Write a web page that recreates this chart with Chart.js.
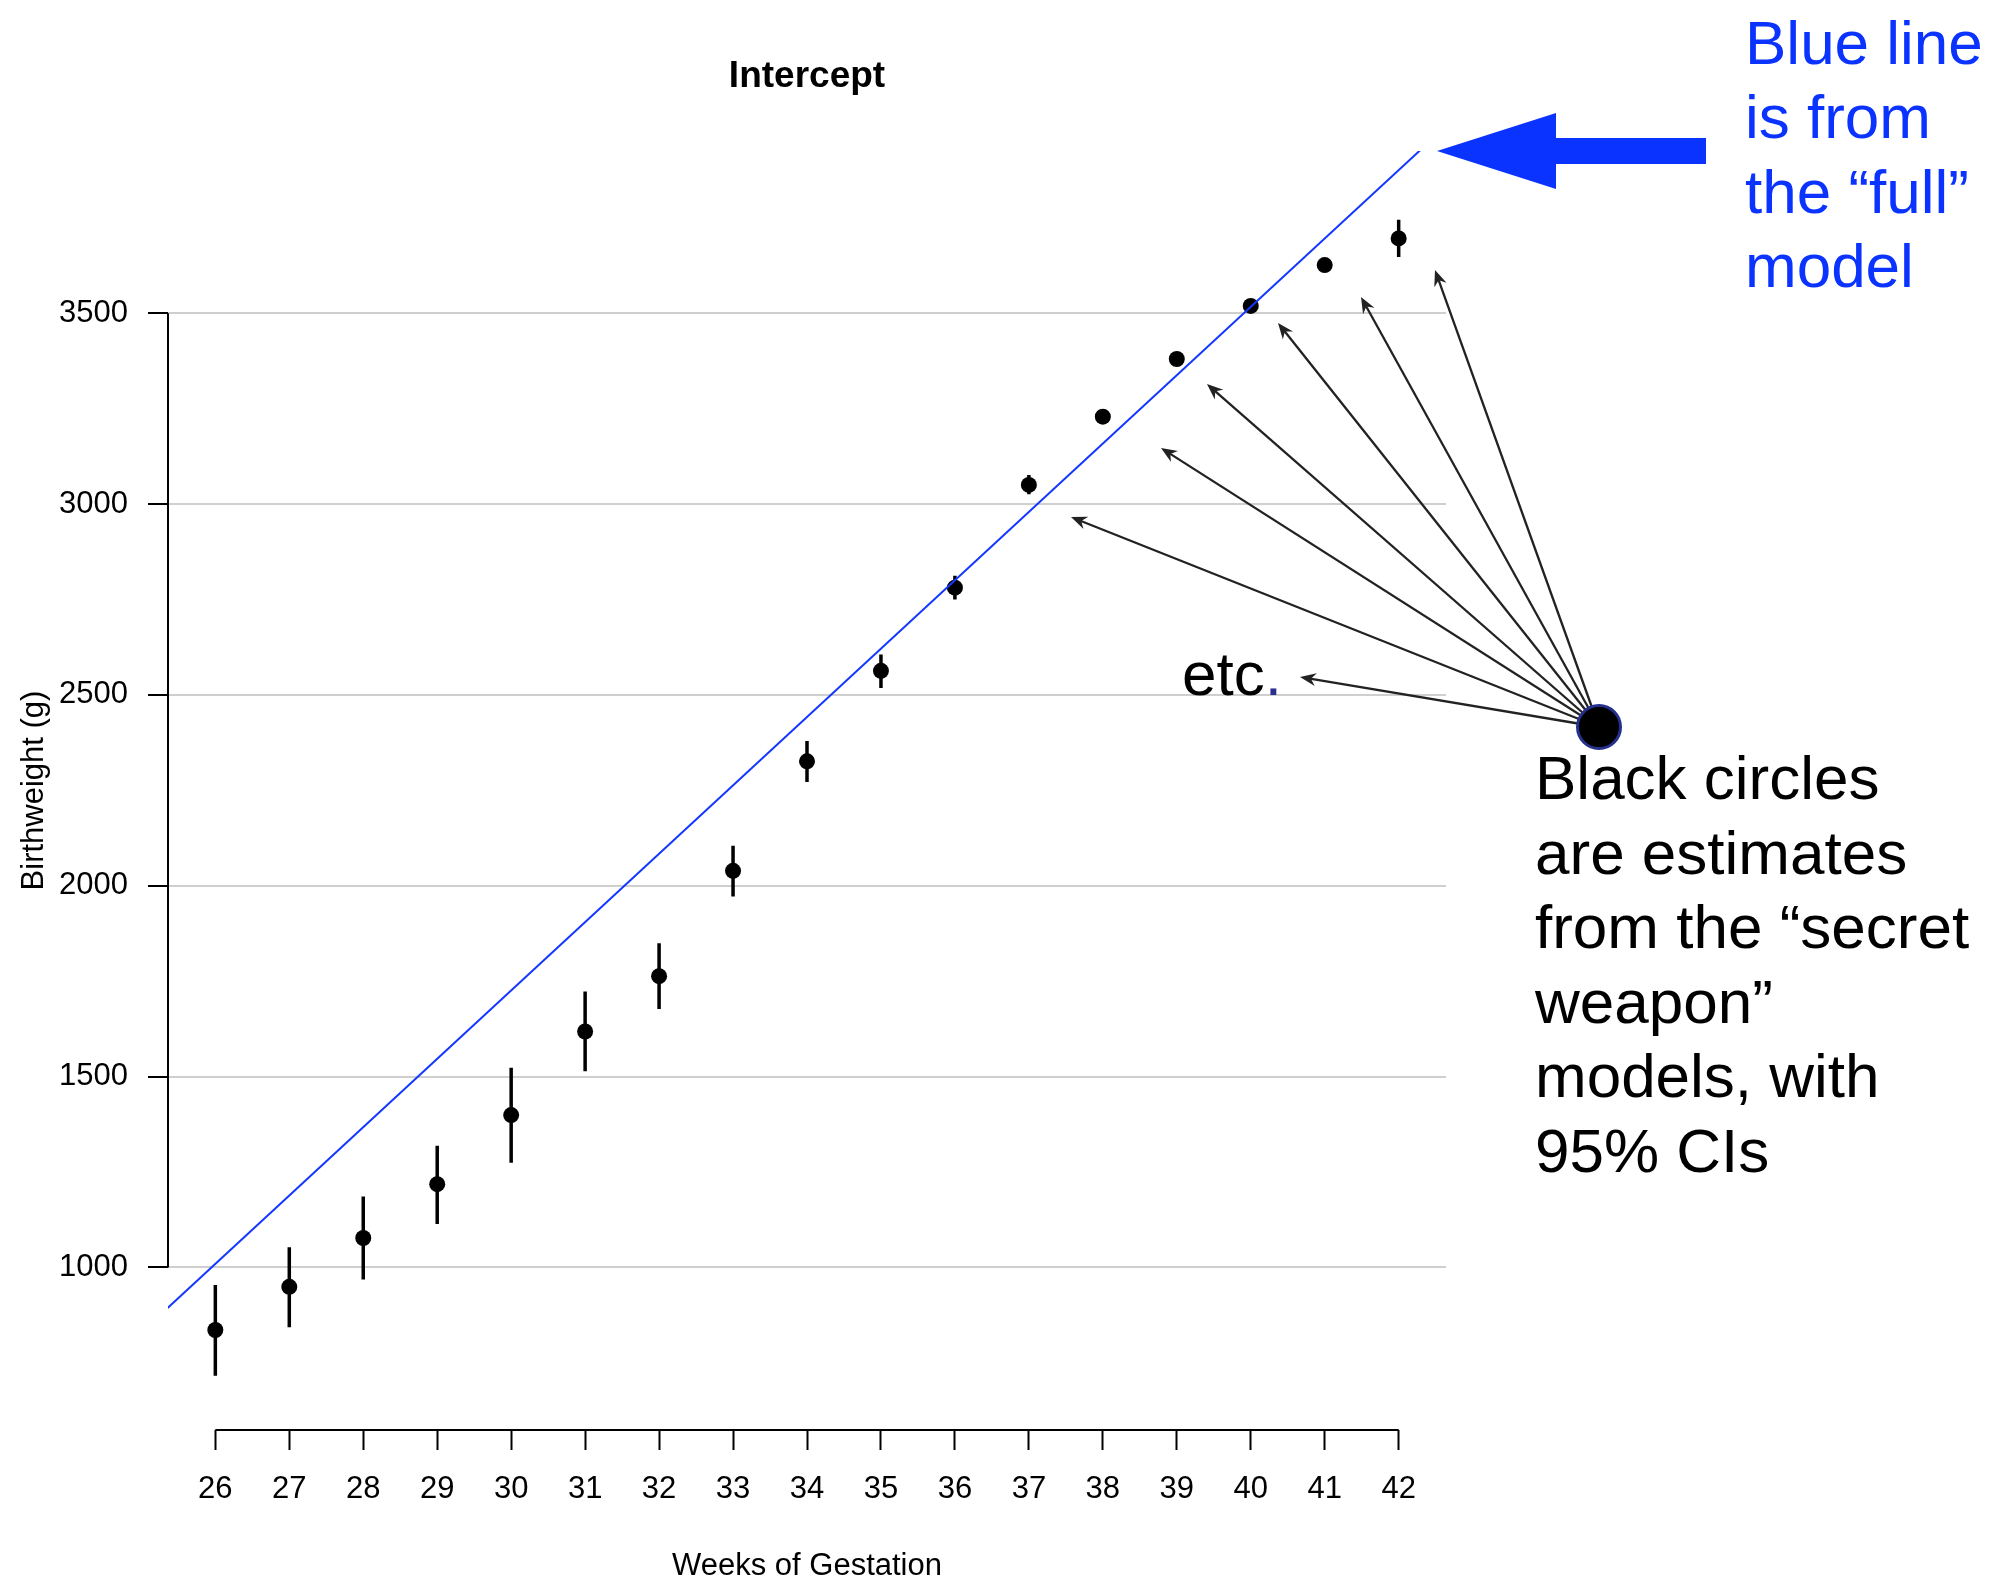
<!DOCTYPE html>
<html>
<head>
<meta charset="utf-8">
<title>Intercept</title>
<script src="https://cdn.jsdelivr.net/npm/chart.js@4.4.1/dist/chart.umd.min.js"></script>
<style>
  html, body { margin: 0; padding: 0; background: #fff; }
  canvas { display: block; }
</style>
</head>
<body>
<canvas id="interceptChart" width="1992" height="1579"></canvas>
<script>
// weeks of gestation and the per-week ("secret weapon") intercept estimates, in grams
const weeks = [26, 27, 28, 29, 30, 31, 32, 33, 34, 35, 36, 37, 38, 39, 40, 41, 42];
const secretEstimate = [836, 949, 1077, 1218, 1399, 1618, 1763, 2039, 2326, 2563, 2781, 3050, 3229, 3380, 3519, 3626, 3696];
const ciLower = [716, 843, 968, 1114, 1274, 1514, 1677, 1972, 2272, 2518, 2750, 3026, 3215, 3366, 3505, 3610, 3647];
const ciUpper = [954, 1053, 1186, 1319, 1523, 1723, 1849, 2105, 2379, 2606, 2812, 3076, 3243, 3394, 3533, 3642, 3745];

// straight fit from the full model (ends sit past the plot edges and get clipped)
const fullModelWeeks = [25, 43];
const fullModelGrams = [830, 4054];

const yTicks = [1000, 1500, 2000, 2500, 3000, 3500];
const xRange = [25.36, 42.64];
const yRange = [574, 3925];

const FONT = '"Liberation Sans", Arial, Helvetica, sans-serif';
const BLUE = '#0b33ff';

// error bars as one line dataset broken by gaps
const ciSegments = [];
weeks.forEach(function (w, i) {
    ciSegments.push({ x: w, y: ciLower[i] });
    ciSegments.push({ x: w, y: ciUpper[i] });
    ciSegments.push({ x: w, y: null });
});

const estimatePoints = weeks.map(function (w, i) {
    return { x: w, y: secretEstimate[i] };
});

const fullModelPoints = fullModelWeeks.map(function (w, i) {
    return { x: w, y: fullModelGrams[i] };
});

function drawArrowHead(ctx, fromX, fromY, toX, toY) {
    const ang = Math.atan2(toY - fromY, toX - fromX);
    const len = 16, half = 6.5, notch = 11;
    const cos = Math.cos(ang), sin = Math.sin(ang);
    ctx.beginPath();
    ctx.moveTo(toX, toY);
    ctx.lineTo(toX - len * cos + half * sin, toY - len * sin - half * cos);
    ctx.lineTo(toX - notch * cos, toY - notch * sin);
    ctx.lineTo(toX - len * cos - half * sin, toY - len * sin + half * cos);
    ctx.closePath();
    ctx.fill();
}

const annotations = {
    id: 'annotations',
    afterDraw: function (chart) {
        const ctx = chart.ctx;
        const area = chart.chartArea;
        const xs = chart.scales.x;
        const ys = chart.scales.y;

        ctx.save();

        // R-style axis lines, only from first to last tick
        ctx.strokeStyle = '#000';
        ctx.lineWidth = 2;
        ctx.beginPath();
        ctx.moveTo(area.left, ys.getPixelForValue(yTicks[0]));
        ctx.lineTo(area.left, ys.getPixelForValue(yTicks[yTicks.length - 1]));
        ctx.moveTo(xs.getPixelForValue(weeks[0]), area.bottom);
        ctx.lineTo(xs.getPixelForValue(weeks[weeks.length - 1]), area.bottom);
        ctx.stroke();

        // plot title
        ctx.fillStyle = '#000';
        ctx.font = 'bold 37px ' + FONT;
        ctx.textAlign = 'center';
        ctx.textBaseline = 'alphabetic';
        ctx.fillText('Intercept', (area.left + area.right) / 2, 87);

        // big blue arrow pointing at the end of the full-model line
        ctx.fillStyle = BLUE;
        ctx.beginPath();
        ctx.moveTo(1437, 151);
        ctx.lineTo(1556, 113);
        ctx.lineTo(1556, 138);
        ctx.lineTo(1706, 138);
        ctx.lineTo(1706, 164);
        ctx.lineTo(1556, 164);
        ctx.lineTo(1556, 189);
        ctx.closePath();
        ctx.fill();

        ctx.textAlign = 'left';
        ctx.font = '62px ' + FONT;
        ['Blue line', 'is from', 'the \u201cfull\u201d', 'model'].forEach(function (line, i) {
            ctx.fillText(line, 1745, 63.5 + i * 74.5);
        });

        ctx.fillStyle = '#000';
        ['Black circles', 'are estimates', 'from the \u201csecret', 'weapon\u201d', 'models, with', '95% CIs']
            .forEach(function (line, i) {
                ctx.fillText(line, 1535, 799 + i * 74.6);
            });

        ctx.fillText('etc', 1182, 695);
        const etcWidth = ctx.measureText('etc').width;
        ctx.fillStyle = '#2b2f8f';
        ctx.fillText('.', 1182 + etcWidth, 695);

        // pointer arrows fanning out from the legend circle
        const origin = [1599, 727];
        const targets = [[1300, 677], [1071, 517], [1161, 448], [1207, 384], [1278, 323], [1361, 297], [1435, 270]];
        ctx.strokeStyle = '#222';
        ctx.fillStyle = '#222';
        ctx.lineWidth = 2.3;
        targets.forEach(function (t) {
            const ang = Math.atan2(t[1] - origin[1], t[0] - origin[0]);
            ctx.beginPath();
            ctx.moveTo(origin[0], origin[1]);
            ctx.lineTo(t[0] - 10 * Math.cos(ang), t[1] - 10 * Math.sin(ang));
            ctx.stroke();
            drawArrowHead(ctx, origin[0], origin[1], t[0], t[1]);
        });

        ctx.beginPath();
        ctx.arc(origin[0], origin[1], 21.5, 0, Math.PI * 2);
        ctx.fillStyle = '#000';
        ctx.fill();
        ctx.strokeStyle = '#25308c';
        ctx.lineWidth = 3;
        ctx.stroke();

        ctx.restore();
    }
};

const ctx = document.getElementById('interceptChart').getContext('2d');

new Chart(ctx, {
    type: 'line',
    data: {
        datasets: [
            {
                label: 'Full model',
                data: fullModelPoints,
                borderColor: '#1437ff',
                borderWidth: 2,
                pointRadius: 0,
                fill: false
            },
            {
                label: 'Secret weapon estimates',
                data: estimatePoints,
                showLine: false,
                pointRadius: 8,
                pointBackgroundColor: '#000',
                pointBorderWidth: 0
            },
            {
                label: '95% CI',
                data: ciSegments,
                borderColor: '#000',
                borderWidth: 3.5,
                borderCapStyle: 'butt',
                pointRadius: 0,
                spanGaps: false,
                fill: false
            }
        ]
    },
    options: {
        responsive: false,
        animation: false,
        events: [],
        layout: {
            padding: { left: 0, top: 151, right: 546, bottom: 0 }
        },
        plugins: {
            legend: { display: false },
            tooltip: { enabled: false },
            title: { display: false }
        },
        scales: {
            x: {
                type: 'linear',
                min: xRange[0],
                max: xRange[1],
                afterBuildTicks: function (axis) {
                    axis.ticks = weeks.map(function (w) { return { value: w }; });
                },
                afterFit: function (scale) {
                    scale.height = 149;
                },
                border: { display: false },
                grid: {
                    drawOnChartArea: false,
                    drawTicks: true,
                    tickLength: 20,
                    tickColor: '#000',
                    tickWidth: 2
                },
                ticks: {
                    color: '#000',
                    font: { family: FONT, size: 31 },
                    padding: 21,
                    maxRotation: 0,
                    autoSkip: false,
                    callback: function (v) { return String(v); }
                },
                title: {
                    display: true,
                    text: 'Weeks of Gestation',
                    color: '#000',
                    font: { family: FONT, size: 31 },
                    padding: { top: 0, bottom: -6 }
                }
            },
            y: {
                type: 'linear',
                min: yRange[0],
                max: yRange[1],
                afterBuildTicks: function (axis) {
                    axis.ticks = yTicks.map(function (v) { return { value: v }; });
                },
                afterFit: function (scale) {
                    scale.width = 168;
                },
                border: { display: false },
                grid: {
                    color: '#cfcfcf',
                    lineWidth: 2,
                    drawTicks: true,
                    tickLength: 20,
                    tickColor: '#000',
                    tickWidth: 2
                },
                ticks: {
                    color: '#000',
                    font: { family: FONT, size: 31 },
                    padding: 20,
                    autoSkip: false,
                    callback: function (v) { return String(v); }
                },
                title: {
                    display: true,
                    text: 'Birthweight (g)',
                    color: '#000',
                    font: { family: FONT, size: 31 },
                    padding: { top: 16, bottom: 0 }
                }
            }
        }
    },
    plugins: [annotations]
});
</script>
</body>
</html>
